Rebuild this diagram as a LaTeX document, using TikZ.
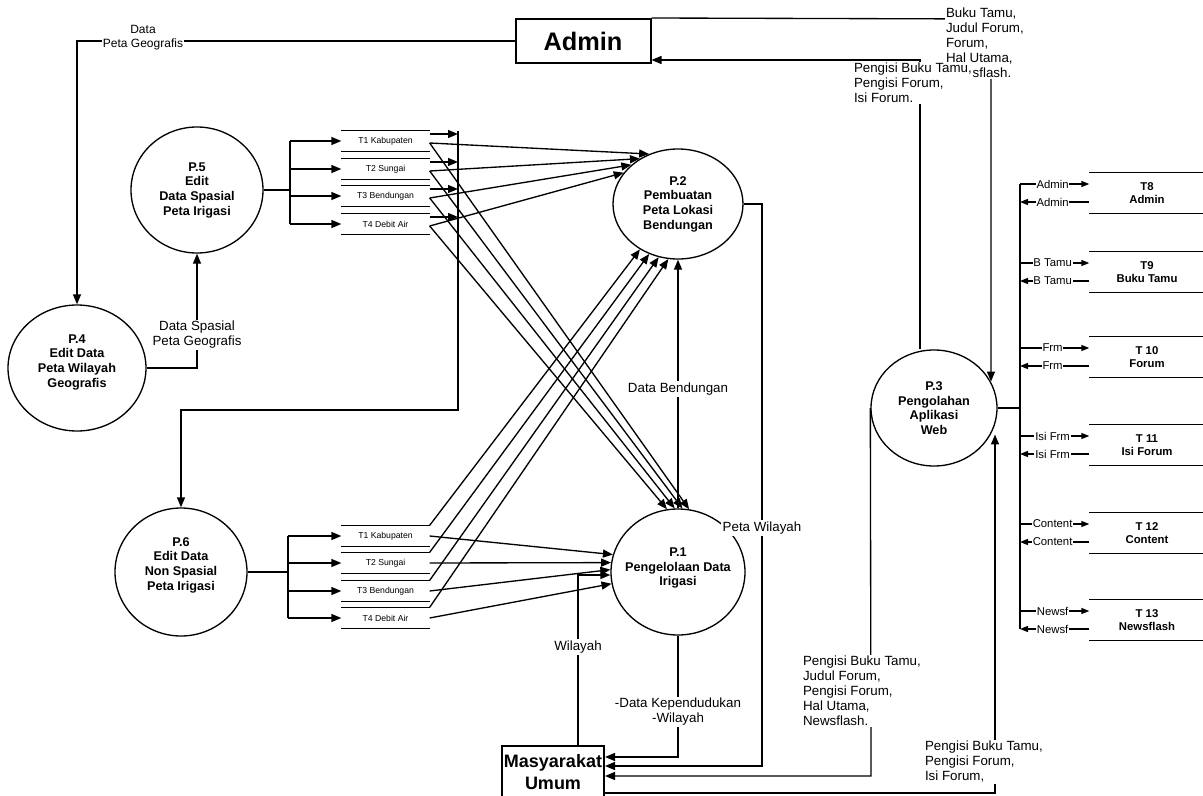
\documentclass[tikz,border=0pt]{standalone}
\usepackage{fontspec}
\setmainfont{Liberation Sans}
\usetikzlibrary{shapes.geometric,arrows.meta,calc}
\begin{document}
\begin{tikzpicture}[x=0.75pt,y=-0.75pt,
  line width=1pt,
  proc/.style={draw,ellipse,inner sep=0pt},
  ptext/.style={font=\bfseries\fontsize{9.5}{11}\selectfont,align=center,inner sep=0pt},
  ent/.style={draw,line width=1.5pt,inner sep=0pt},
  sto/.style={inner sep=0pt,minimum width=65.25pt,minimum height=15pt,font=\fontsize{6.5}{7}\selectfont},
  rsto/.style={inner sep=0pt,minimum width=85.5pt,minimum height=30pt,font=\bfseries\fontsize{8.5}{10}\selectfont,align=center},
  lab/.style={fill=white,inner sep=1pt,font=\fontsize{10}{11.3}\selectfont,align=left},
  blab/.style={fill=white,inner sep=0.6pt,font=\fontsize{8.5}{9}\selectfont},
  arr/.style={-{Triangle[length=7.5pt,width=6pt]}},
  sarr/.style={-{Triangle[length=6pt,width=4.5pt]}},
]
\useasboundingbox (0,0) rectangle (1203,796);

% external entities
\node[ent,minimum width=101.25pt,minimum height=33pt,font=\bfseries\fontsize{19}{21}\selectfont] (Admin) at (583,41) {Admin};
\node[ent,minimum width=76.5pt,minimum height=39pt,align=center,font=\bfseries\fontsize{13.5}{16}\selectfont] (Masy) at (553,772) {Masyarakat\\Umum};

% processes
\node[proc,minimum width=100.5pt,minimum height=94.5pt] (P1) at (678,572) {};
\node[ptext] (P1t) at ($(P1)+(0,-4)$) {P.1\\Pengelolaan Data\\Irigasi};
\node[proc,minimum width=97.5pt,minimum height=82.5pt] (P2) at (678,204) {};
\node[ptext] (P2t) at (P2) {P.2\\Pembuatan\\Peta Lokasi\\Bendungan};
\node[proc,minimum width=94.5pt,minimum height=87pt] (P3) at (934,408) {};
\node[ptext] (P3t) at (P3) {P.3\\Pengolahan\\Aplikasi\\Web};
\node[proc,minimum width=103.5pt,minimum height=94.5pt] (P4) at (77,368) {};
\node[ptext] (P4t) at ($(P4)+(0,-6)$) {P.4\\Edit Data\\Peta Wilayah\\Geografis};
\node[proc,minimum width=99pt,minimum height=94.5pt] (P5) at (197,190) {};
\node[ptext] (P5t) at (P5) {P.5\\Edit\\Data Spasial\\Peta Irigasi};
\node[proc,minimum width=99pt,minimum height=96pt] (P6) at (181,572) {};
\node[ptext] (P6t) at ($(P6)+(0,-7)$) {P.6\\Edit Data\\Non Spasial\\Peta Irigasi};

% data stores (left)
\foreach \i/\y/\t in {1/141/T1 Kabupaten,2/169/T2 Sungai,3/196/T3 Bendungan,4/224/T4 Debit Air}
  \node[sto] (a\i) at (385.5,\y) {\t};
\foreach \i/\y/\t in {1/536/T1 Kabupaten,2/563/T2 Sungai,3/591/T3 Bendungan,4/618/T4 Debit Air}
  \node[sto] (b\i) at (385.5,\y) {\t};
% data stores (right)
\foreach \i/\y/\t in {8/193/T8\\Admin,9/272/T9\\Buku Tamu,10/357/T 10\\Forum,11/445/T 11\\Isi Forum,12/533/T 12\\Content,13/620/T 13\\Newsflash}
  \node[rsto] (t\i) at (1147,\y) {\t};
\foreach \s in {a1,a2,a3,a4,b1,b2,b3,b4,t8,t9,t10,t11,t12,t13}
  \draw (\s.north west) -- (\s.north east) (\s.south west) -- (\s.south east);

% Admin -> P4
\coordinate (c1) at (77,41);
\draw[arr] (Admin.west) -- (c1) -- (P4.north);
% P4 -> P5
\coordinate (c2) at (197,368);
\draw[arr] (P4.east) -- (c2) -- (P5.south);
% P5 -> top stores
\coordinate (c3) at (290,190);
\draw (P5.east) -- (c3);
\draw (a1.west -| c3) -- (a4.west -| c3);
\foreach \i in {1,...,4} \draw[arr] (a\i.west -| c3) -- (a\i.west);
% top stores -> P6
\coordinate (c4) at (458,131);
\coordinate (c5) at (458,410);
\coordinate (c6) at (181,410);
\draw[arr] (c4) -- (c5) -- (c6) -- (P6.north);
\foreach \i in {1,...,4} {
  \path ($(a\i.east)+(0,-7)$) coordinate (q\i) ($(a\i.east)+(0,2)$) coordinate (r\i);
  \draw[arr] (q\i) -- (q\i -| c4);
}
% P6 -> bottom stores
\coordinate (c7) at (288,572);
\draw (P6.east) -- (c7);
\draw (b1.west -| c7) -- (b4.west -| c7);
\foreach \i in {1,...,4} \draw[arr] (b\i.west -| c7) -- (b\i.west);

% crossing flows
\foreach \i/\a in {1/120,2/130,3/140,4/150} \draw[arr] (r\i) -- (P2.\a);
\foreach \i/\a in {1/80,2/86,3/93,4/100} \draw[arr] (r\i) -- (P1.\a);
\foreach \i/\a in {1/230,2/240,3/250,4/260} \draw[arr] (b\i.north east) -- (P2.\a);
\foreach \i/\a in {1/165,2/172,3/178,4/190} \draw[arr] (b\i.east) -- (P1.\a);

% P1 -> P2
\draw[arr] (P1.north) -- (P2.south);
% P2 -> Masyarakat
\coordinate (c8) at (762,204);
\coordinate (c9) at (762,766);
\draw[arr] (P2.east) -- (c8) -- (c9) -- (Masy.east |- c9);
% P1 -> Masyarakat
\coordinate (c10) at (678,757);
\draw[arr] (P1.south) -- (c10) -- (Masy.east |- c10);
% Masyarakat -> P1
\coordinate (c11) at (578,575);
\draw[arr] (Masy.north -| c11) -- (c11) -- (P1.west |- c11);
% P3 -> Masyarakat
\coordinate (c12) at (871,776);
\draw[arr] (P3.west) -- (c12) -- (Masy.east |- c12);
% Masyarakat -> P3
\coordinate (c13) at (995,793);
\draw[arr] (Masy.east |- c13) -- (c13) -- (c13 |- P3.-25);
% Admin -> P3
\coordinate (c14) at (991,19);
\draw[arr] (Admin.north east) -- (c14) -- (c14 |- P3.25);
% P3 -> Admin
\coordinate (c15) at (920,60);
\draw[arr] (P3.north -| c15) -- (c15) -- (Admin.east |- c15);

% right bus
\coordinate (rb1) at (1020,184);
\coordinate (rb2) at (1020,629);
\draw (rb1) -- (rb2);
\draw (P3.east) -- (P3.east -| rb1);
\foreach \i/\l in {8/Admin,9/B Tamu,10/Frm,11/Isi Frm,12/Content,13/Newsf} {
  \path ($(t\i.west)+(0,-9)$) coordinate (u\i) ($(t\i.west)+(0,9)$) coordinate (l\i);
  \draw[sarr] (u\i -| rb1) -- (u\i) node[blab,pos=0.47] {\l};
  \draw[sarr] (l\i) -- (l\i -| rb1) node[blab,pos=0.53] {\l};
}

% labels
\node[lab,align=center,font=\fontsize{9}{10.5}\selectfont] (L1) at (143,38) {Data\\Peta Geografis};
\node[lab,align=center] (L2) at (197,335) {Data Spasial\\Peta Geografis};
\node[lab] (L3) at (678,389) {Data Bendungan};
\node[lab] (L4) at (762,528) {Peta Wilayah};
\node[lab,align=center] (L5) at (678,712) {-Data Kependudukan\\-Wilayah};
\node[lab] (L6) at (578,647) {Wilayah};
\node[lab,anchor=north west] (L7) at (801,654) {Pengisi Buku Tamu,\\Judul Forum,\\Pengisi Forum,\\Hal Utama,\\Newsflash.};
\node[lab,anchor=north west] (L8) at (923,739) {Pengisi Buku Tamu,\\Pengisi Forum,\\Isi Forum,};
\node[lab,anchor=north west] (L9) at (944,6) {Buku Tamu,\\Judul Forum,\\Forum,\\Hal Utama,\\Newsflash.};
\node[lab,anchor=north west] (L10) at (852,61) {Pengisi Buku Tamu,\\Pengisi Forum,\\Isi Forum.};
\end{tikzpicture}
\end{document}
